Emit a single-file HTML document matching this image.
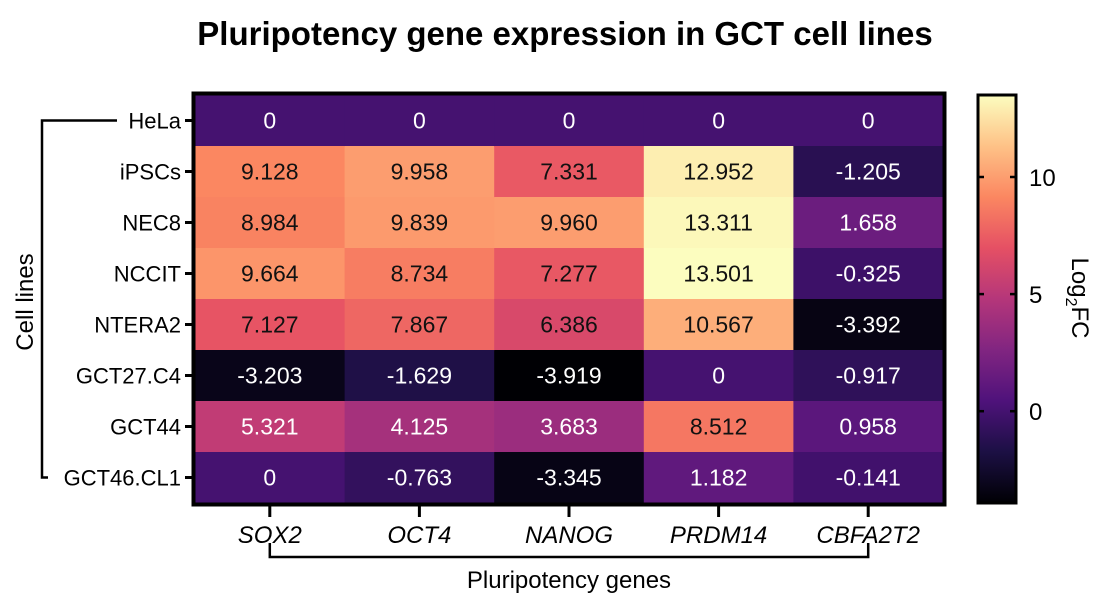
<!DOCTYPE html>
<html><head><meta charset="utf-8">
<style>
html,body{margin:0;padding:0;background:#fff;}
svg{display:block;font-family:"Liberation Sans",Arial,sans-serif;}
</style></head>
<body>
<svg id="chart" width="1115" height="600" viewBox="0 0 1115 600">
<defs>
<linearGradient id="magma" x1="0" y1="1" x2="0" y2="0">
<stop offset="0" stop-color="#000004"/><stop offset="0.125" stop-color="#1c1044"/>
<stop offset="0.25" stop-color="#4f127b"/><stop offset="0.375" stop-color="#812581"/>
<stop offset="0.5" stop-color="#b5367a"/><stop offset="0.625" stop-color="#e55064"/>
<stop offset="0.75" stop-color="#fb8761"/><stop offset="0.875" stop-color="#fec287"/>
<stop offset="1" stop-color="#fcfdbf"/>
</linearGradient>
</defs>
<text x="565" y="45" text-anchor="middle" font-size="33" font-weight="bold">Pluripotency gene expression in GCT cell lines</text>
<g id="cells"></g>
<g id="axes"></g>
</svg>
<script>
const rows = ["HeLa","iPSCs","NEC8","NCCIT","NTERA2","GCT27.C4","GCT44","GCT46.CL1"];
const cols = ["SOX2","OCT4","NANOG","PRDM14","CBFA2T2"];
const sox2 = [0, 9.128, 8.984, 9.664, 7.127, -3.203, 5.321, 0];
const oct4 = [0, 9.958, 9.839, 8.734, 7.867, -1.629, 4.125, -0.763];
const nanog = [0, 7.331, 9.960, 7.277, 6.386, -3.919, 3.683, -3.345];
const prdm14 = [0, 12.952, 13.311, 13.501, 10.567, 0, 8.512, 1.182];
const cbfa2t2 = [0, -1.205, 1.658, -0.325, -3.392, -0.917, 0.958, -0.141];
const labels = {
  sox2:["0","9.128","8.984","9.664","7.127","-3.203","5.321","0"],
  oct4:["0","9.958","9.839","8.734","7.867","-1.629","4.125","-0.763"],
  nanog:["0","7.331","9.960","7.277","6.386","-3.919","3.683","-3.345"],
  prdm14:["0","12.952","13.311","13.501","10.567","0","8.512","1.182"],
  cbfa2t2:["0","-1.205","1.658","-0.325","-3.392","-0.917","0.958","-0.141"]
};
const cbTicks = [0,5,10];
const series = [sox2, oct4, nanog, prdm14, cbfa2t2];
const seriesLabels = [labels.sox2, labels.oct4, labels.nanog, labels.prdm14, labels.cbfa2t2];

const NS = "http://www.w3.org/2000/svg";
const X0=195, X1=943, Y0=95, Y1=503;
const cw=(X1-X0)/cols.length, rh=(Y1-Y0)/rows.length;
const all=series.flat(); const vmin=Math.min(...all), vmax=Math.max(...all);
const stops=["#000004","#1c1044","#4f127b","#812581","#b5367a","#e55064","#fb8761","#fec287","#fcfdbf"].map(h=>[1,3,5].map(i=>parseInt(h.substr(i,2),16)));
function magma(v){let t=(v-vmin)/(vmax-vmin);t=Math.max(0,Math.min(1,t))*(stops.length-1);const i=Math.min(Math.floor(t),stops.length-2),f=t-i;const c=stops[i].map((a,k)=>Math.round(a+(stops[i+1][k]-a)*f));return `rgb(${c.join(",")})`;}
function xC(j){return X0+cw*j;}
function yR(i){return Y0+rh*i;}
function mk(tag,attrs,parent){const e=document.createElementNS(NS,tag);for(const k in attrs)e.setAttribute(k,attrs[k]);parent.appendChild(e);return e;}
const gc=document.getElementById("cells"), ga=document.getElementById("axes");
series.forEach((s,j)=>s.forEach((v,i)=>{
  const r=mk("rect",{x:xC(j),y:yR(i),width:cw+0.5,height:rh+0.5,fill:magma(v)},gc);
  
  
  const t=mk("text",{x:xC(j)+cw/2,y:yR(i)+rh/2+8,"text-anchor":"middle","font-size":"23",fill:v>5.5?"#111":"#fff"},gc);
  t.textContent=seriesLabels[j][i];
  
  
}));
const fr=mk("rect",{x:X0-1.5,y:Y0-1.5,width:X1-X0+3,height:Y1-Y0+3,fill:"none",stroke:"#000","stroke-width":"4"},ga);


rows.forEach((r,i)=>{
  const y=yR(i)+rh/2;
  mk("line",{x1:X0-10,x2:X0,y1:y,y2:y,stroke:"#000","stroke-width":"3"},ga);
  const t=mk("text",{x:X0-14,y:y+8,"text-anchor":"end","font-size":"22"},ga);
  t.textContent=r;
  
  
});
cols.forEach((c,j)=>{
  const x=xC(j)+cw/2;
  mk("line",{x1:x,x2:x,y1:Y1,y2:Y1+14,stroke:"#000","stroke-width":"3"},ga);
  const t=mk("text",{x:x,y:Y1+40,"text-anchor":"middle","font-size":"24","font-style":"italic"},ga);
  t.textContent=c;
  
  
});
const yb=mk("path",{d:`M117 ${yR(0)+rh/2} H42 V${yR(7)+rh/2} H48`,fill:"none",stroke:"#000","stroke-width":"2.5"},ga);


const xb=mk("path",{d:`M${xC(0)+cw/2} 543 V557 H${xC(4)+cw/2} V543`,fill:"none",stroke:"#000","stroke-width":"2.5"},ga);


const yt=mk("text",{x:0,y:0,transform:"translate(33,302) rotate(-90)","text-anchor":"middle","font-size":"24"},ga);
yt.textContent="Cell lines";


const xt=mk("text",{x:xC(2)+cw/2,y:588,"text-anchor":"middle","font-size":"24"},ga);
xt.textContent="Pluripotency genes";


const CB0=95, CB1=503, CX=978, CW=38;
function yCb(v){return CB1-(v-vmin)/(vmax-vmin)*(CB1-CB0);}
const cb=mk("rect",{x:CX,y:CB0,width:CW,height:CB1-CB0,fill:"url(#magma)",stroke:"#000","stroke-width":"3"},ga);


cbTicks.forEach(v=>{
  const y=yCb(v);
  mk("line",{x1:CX,x2:CX+6,y1:y,y2:y,stroke:"#000","stroke-width":"2.5"},ga);
  mk("line",{x1:CX+CW-6,x2:CX+CW,y1:y,y2:y,stroke:"#000","stroke-width":"2.5"},ga);
  const t=mk("text",{x:CX+CW+13,y:y+9,"font-size":"24"},ga);
  t.textContent=String(v);
  
  
});
const ct=mk("text",{x:0,y:0,transform:"translate(1072,298) rotate(90)","text-anchor":"middle","font-size":"24"},ga);
ct.innerHTML='Log<tspan font-size="16" dy="6">2</tspan><tspan dy="-6">FC</tspan>';


</script>
</body></html>
